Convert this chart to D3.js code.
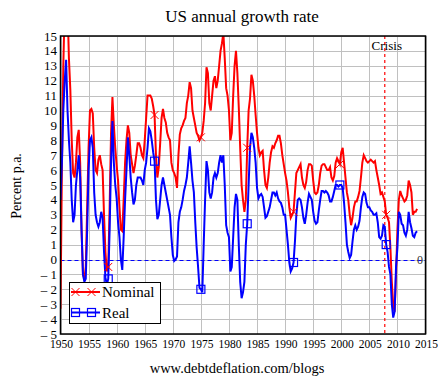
<!DOCTYPE html>
<html>
<head>
<meta charset="utf-8">
<script src="https://cdn.jsdelivr.net/npm/d3@7"></script>
<style>
  body { margin: 0; background: #fff; }
  text { font-family: "Liberation Serif", "Times New Roman", serif; fill: #000; }
</style>
</head>
<body>
<div id="viz"></div>
<script>
// quarterly data, first value is 1950 Q1
const startYear = 1950;

// nominal GDP, % change on a year earlier
const nominal = [
  -3.3, 6, 13, 17,
  15, 17, 13.5, 11.4,
  8, 5.8, 5.5, 6.5,
  8.2, 8.7, 6.5, 2,
  -1, -1.3, -0.5, 3.5,
  7.5, 10, 10.1, 9.8,
  7.5, 6, 5.8, 6.7,
  7, 6.4, 6, 3,
  0.5, -0.8, -0.5, 3.5,
  8.5, 10.9, 9, 7.5,
  6.3, 5.3, 3.5, 2,
  1.9, 4, 6.5, 8,
  9, 8.5, 7, 6.4,
  5.8, 6.3, 7, 7.8,
  7.8, 7.5, 7, 6.8,
  8, 9.5, 11, 11,
  11, 10.8, 10.3, 9.7,
  7, 5.5, 6.2, 7.8,
  9.5, 10.1, 9.5, 9.2,
  8.5, 8.2, 8, 6.5,
  6, 5.8, 5.5, 4.8,
  7, 8.4, 8.8, 9,
  9.3, 9.5, 10.5, 11,
  11.9, 11.5, 10, 9.5,
  9, 8.5, 8.3, 8,
  8.2, 8.5, 9.3, 10.5,
  12.9, 12.5, 10.5, 10,
  11, 12, 12.3, 11.5,
  12, 13, 14, 14.5,
  15.2, 13.5, 11.5, 11,
  10, 8, 8.5, 11,
  13, 14, 12.5, 10.2,
  7.5, 5, 4, 3.2,
  4, 7.5, 10, 10.8,
  12.4, 12, 11, 9.7,
  8.5, 7.5, 7, 7.2,
  7.3, 6, 5, 4.8,
  5.5, 6.5, 7.2, 7.6,
  7.5, 7.8, 8, 8.3,
  8.3, 7.8, 7, 6.4,
  5.8, 5.3, 4.5, 3.5,
  2.8, 3, 3.2, 4.5,
  5.8, 6, 6.2, 6.4,
  5.5, 5, 4.8, 5.2,
  6, 6.4, 6.4, 6.3,
  5.3, 4.5, 4.4, 4.5,
  5, 5.8, 6.3, 6.4,
  6.4, 6.2, 6, 6,
  6.2, 5.5, 5.3, 5.6,
  6.5, 6.8, 6.6, 6.4,
  7.2, 7.5, 6.5, 5.5,
  4.5, 4, 3, 2.3,
  2.8, 3.5, 3.9, 3.9,
  4.2, 4.6, 5.5, 6.5,
  7, 6.8, 6.6, 6.5,
  6.6, 6.7, 6.6, 6.5,
  6.6, 6, 5.5, 5,
  4.4, 4.5, 4.2, 3.9,
  3, 2.8, 2.5, 0.8,
  -1.5, -3, -3.5, -1,
  2, 4, 4.6, 4.3,
  4.1, 3.9, 4, 4.3,
  5.3, 5, 4.5, 3,
  3.2, 3.2, 3.4
];

// real GDP, % change on a year earlier
const real = [
  4, 6.5, 10, 12,
  13.4, 10, 8, 6.5,
  4, 2.5, 3, 5,
  6, 7, 5.5, 2,
  -1, -1.5, -1.3, 2,
  6, 8, 8.2, 7.5,
  4.5, 3, 2.5, 2.2,
  2.5, 3.2, 2.8, 0.5,
  -1.2, -1.7, -1.3, 2,
  6.5, 9.3, 6.5, 5,
  4.1, 2.5, 1.5, 0,
  -0.7, 1.5, 4, 6,
  8.2, 7, 5.5, 4.5,
  3.7, 4, 5, 5.5,
  5.5, 5.5, 5.3, 5,
  6, 6.5, 7.5, 8.8,
  8.6, 8, 7.2, 6.6,
  4, 2.7, 3, 4,
  5, 5.5, 5, 4.5,
  4, 3.5, 3, 1.5,
  0.3, -0.1, 0, 0.2,
  2.5, 3.2, 3.5, 4,
  4.6, 5, 5.5, 6.5,
  7.6, 6.5, 5.3, 4.5,
  2.5, 0.8, -0.5, -1.9,
  -2, -2.2, 1, 4,
  6.6, 6, 4.5, 4.1,
  4.5, 5.5, 5.8, 5.5,
  5.8, 6.5, 7, 6.5,
  7, 5, 2.3, 1.8,
  1.5, -0.8, -0.5, 1.5,
  3.5, 4.4, 4, 1,
  -1.5, -2.6, -2.2, -1.5,
  1, 2.4, 5, 7.5,
  8.5, 8.2, 7.5, 6.5,
  4.8, 4.1, 4.3, 4.4,
  4.2, 3.5, 2.8, 2.9,
  3.2, 3.5, 4, 4.5,
  4.5, 4.3, 4.5, 4.1,
  3.9, 3.8, 3.5, 3,
  3, 2, 1, -0.2,
  -0.8, -0.6, -0.2, 1.2,
  3, 4, 4.1, 4,
  3.5, 2.8, 2.4, 3,
  3.8, 4.4, 4.2, 4,
  3.2, 2.6, 2.4, 2.5,
  3.3, 4, 4.6, 4.6,
  4.5, 4.6, 4.5, 4.3,
  3.9, 3.9, 4.2, 4.6,
  5, 5, 4.9, 5,
  5, 4.8, 3.8, 2.5,
  1, 0.5, 0.1, 0.3,
  1.2, 2, 2.3, 2,
  2.2, 2.6, 3.5, 4.2,
  4.5, 4.4, 3.8, 3.5,
  3.5, 3.3, 3.2, 3,
  3, 3.1, 2.5, 1.5,
  1.4, 1.6, 2.3, 2.2,
  1, 0.5, -0.5, -1,
  -3, -3.9, -3.5, -0.5,
  0.8, 3.2, 3, 2.4,
  2.3, 1.8, 1.6, 2,
  3.2, 2.5, 2.1, 1.6,
  1.5, 1.8, 1.9
];

const yTicks = [-5,-4,-3,-2,-1,0,1,2,3,4,5,6,7,8,9,10,11,12,13,14,15];
const xTicks = [1950,1955,1960,1965,1970,1975,1980,1985,1990,1995,2000,2005,2010,2015];
const seriesNames = ["Nominal", "Real"];
const crisisYear = 2007.75;

let width = 446,
    height = 385,
    pLeft = 60.5, pRight = 425.5,
    pTop = 36, pBottom = 334;

let x = d3.scaleLinear().domain([1950, 2015]).range([pLeft, pRight]);
let y = d3.scaleLinear().domain([-5, 15]).range([pBottom, pTop]);

// crisp 1px lines
let px = v => Math.round(v) + 0.5;

let svg = d3.select('#viz').append('svg')
    .attr('width', width)
    .attr('height', height);

svg.append('defs').append('clipPath').attr('id', 'plot')
  .append('rect')
    .attr('x', pLeft).attr('y', pTop)
    .attr('width', pRight - pLeft).attr('height', pBottom - pTop);

// grid
svg.append('g').selectAll('line').data(yTicks).enter().append('line')
    .attr('x1', pLeft).attr('x2', pRight)
    .attr('y1', d => px(y(d))).attr('y2', d => px(y(d)))
    .attr('stroke', '#c0c0c0').attr('stroke-width', 1);
svg.append('g').selectAll('line').data(xTicks).enter().append('line')
    .attr('x1', d => px(x(d))).attr('x2', d => px(x(d)))
    .attr('y1', pTop).attr('y2', pBottom)
    .attr('stroke', '#c0c0c0').attr('stroke-width', 1);

// tick labels
svg.append('g').selectAll('text').data(yTicks).enter().append('text')
    .attr('x', 57).attr('y', d => y(d)).attr('dy', '0.35em')
    .attr('text-anchor', 'end')
    .style('font-size', '13px')
    .text(d => d < 0 ? '\u2013 ' + (-d) : d);
svg.append('g').selectAll('text').data(xTicks).enter().append('text')
    .attr('x', d => x(d) + 1).attr('y', 348)
    .attr('text-anchor', 'middle')
    .style('font-size', '11.5px')
    .text(d => d);

let toPoints = arr => arr.map((v, i) => ({year: startYear + i / 4, v: v}));
let nomData = toPoints(nominal),
    realData = toPoints(real);

let line = d3.line().x(d => x(d.year)).y(d => y(d.v)).curve(d3.curveLinear);

let plot = svg.append('g').attr('clip-path', 'url(#plot)');

// zero line
plot.append('line')
    .attr('x1', pLeft).attr('x2', pRight)
    .attr('y1', px(y(0))).attr('y2', px(y(0)))
    .attr('stroke', '#0000ff').attr('stroke-width', 1)
    .attr('stroke-dasharray', '4,3');

// crisis line
plot.append('line')
    .attr('x1', x(crisisYear)).attr('x2', x(crisisYear))
    .attr('y1', pTop).attr('y2', pBottom)
    .attr('stroke', '#ff0000').attr('stroke-width', 1.2)
    .attr('stroke-dasharray', '3,3');

plot.append('path').datum(nomData)
    .attr('d', line)
    .attr('fill', 'none').attr('stroke', '#ff0000').attr('stroke-width', 2);
plot.append('path').datum(realData)
    .attr('d', line)
    .attr('fill', 'none').attr('stroke', '#0000ff').attr('stroke-width', 2);

// markers every 33 quarters
let markEvery = d => d.filter((p, i) => i > 1 && i % 33 === 1);

plot.append('g').selectAll('path').data(markEvery(nomData)).enter().append('path')
    .attr('d', d => {
      let cx = x(d.year), cy = y(d.v), r = 4;
      return `M${cx-r},${cy-r}L${cx+r},${cy+r}M${cx-r},${cy+r}L${cx+r},${cy-r}`;
    })
    .attr('stroke', '#ff0000').attr('stroke-width', 1);
plot.append('g').selectAll('rect').data(markEvery(realData)).enter().append('rect')
    .attr('x', d => x(d.year) - 4).attr('y', d => y(d.v) - 4)
    .attr('width', 8).attr('height', 8)
    .attr('fill', 'none').attr('stroke', '#0000ff').attr('stroke-width', 1.2);

// plot border
svg.append('rect')
    .attr('x', pLeft).attr('y', pTop)
    .attr('width', pRight - pLeft).attr('height', pBottom - pTop)
    .attr('fill', 'none').attr('stroke', '#000').attr('stroke-width', 1.5);

svg.append('text')
    .attr('x', x(crisisYear) + 2).attr('y', 50)
    .attr('text-anchor', 'middle')
    .style('font-size', '13px')
    .text('Crisis');

svg.append('text')
    .attr('x', 420).attr('y', y(0)).attr('dy', '0.35em')
    .attr('text-anchor', 'middle')
    .style('font-size', '12px').style('fill', '#333')
    .text('0');

// titles
svg.append('text')
    .attr('x', 242).attr('y', 22)
    .attr('text-anchor', 'middle')
    .style('font-size', '17px')
    .text('US annual growth rate');
svg.append('text')
    .attr('transform', 'translate(21,186) rotate(-90)')
    .attr('text-anchor', 'middle')
    .style('font-size', '14px')
    .text('Percent p.a.');
svg.append('text')
    .attr('x', 237).attr('y', 373)
    .attr('text-anchor', 'middle')
    .style('font-size', '14.5px')
    .text('www.debtdeflation.com/blogs');

// legend
let legend = svg.append('g');
legend.append('rect')
    .attr('x', 69.5).attr('y', 282.5).attr('width', 91).attr('height', 41)
    .attr('fill', '#fff').attr('stroke', '#000').attr('stroke-width', 1);
let legRows = [{name: seriesNames[0], color: '#ff0000', y: 292}, {name: seriesNames[1], color: '#0000ff', y: 312.5}];
legRows.forEach((r, k) => {
  legend.append('line')
      .attr('x1', 71).attr('x2', 100).attr('y1', r.y).attr('y2', r.y)
      .attr('stroke', r.color).attr('stroke-width', 2);
  [75.5, 91.5].forEach(cx => {
    if (k === 0) {
      legend.append('path')
          .attr('d', `M${cx-4},${r.y-4}L${cx+4},${r.y+4}M${cx-4},${r.y+4}L${cx+4},${r.y-4}`)
          .attr('stroke', r.color).attr('stroke-width', 1);
    } else {
      legend.append('rect')
          .attr('x', cx - 4).attr('y', r.y - 4).attr('width', 8).attr('height', 8)
          .attr('fill', 'none').attr('stroke', r.color).attr('stroke-width', 1.2);
    }
  });
  legend.append('text')
      .attr('x', 102).attr('y', r.y).attr('dy', '0.35em')
      .style('font-size', '15px')
      .text(r.name);
});
</script>
</body>
</html>
